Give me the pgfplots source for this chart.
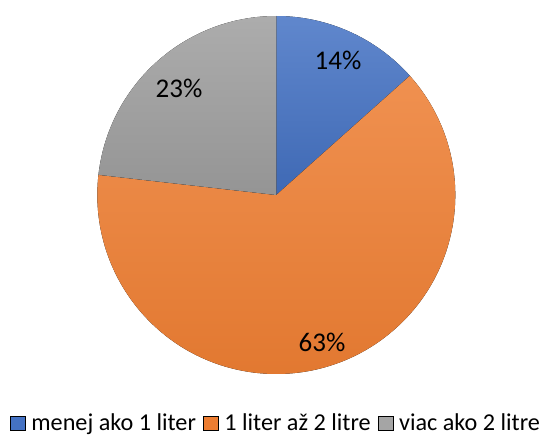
\documentclass[border=0pt]{standalone}
\usepackage{pgfplots}
\pgfplotsset{compat=1.18}
\usepackage{pgfplotstable}
\usepackage{fontspec}
\setmainfont{Carlito}
\definecolor{pblue}{HTML}{4472C4}
\definecolor{porange}{HTML}{ED7D31}
\definecolor{pgrey}{HTML}{A5A5A5}
\pgfplotstableread{
share
13.4
63.4
23.2
}\piedata
\pgfplotstablegetelem{0}{share}\of\piedata \let\sA\pgfplotsretval
\pgfplotstablegetelem{1}{share}\of\piedata \let\sB\pgfplotsretval
\pgfplotstablegetelem{2}{share}\of\piedata \let\sC\pgfplotsretval
\pgfmathsetmacro{\aA}{90}
\pgfmathsetmacro{\aB}{90-3.6*\sA}
\pgfmathsetmacro{\aC}{\aB-3.6*\sB}
\pgfmathsetmacro{\aD}{\aC-3.6*\sC}
\def\cx{276.3}
\def\cy{242}
\def\R{179pt}
\begin{document}
\begin{tikzpicture}
\begin{axis}[
  name=pie,
  scale only axis, width=544pt, height=437pt,
  xmin=0, xmax=544, ymin=0, ymax=437,
  hide axis, clip=false,
  legend columns=3,
  legend style={at={(axis cs:275,14)}, anchor=center, draw=none, fill=none,
    inner sep=0pt, outer sep=0pt,
    font=\fontsize{24.2}{27}\selectfont,
    /tikz/every odd column/.append style={column sep=6pt},
    /tikz/every even column/.append style={column sep=7pt},
    nodes={inner sep=0pt}},
  legend image code/.code={\fill[#1] (0pt,-7pt) rectangle (15pt,7pt);},
]
\fill[top color=pblue!85!white, bottom color=pblue!92!black]
  (axis cs:\cx,\cy) -- ([shift={(\aA:\R)}]axis cs:\cx,\cy) arc[start angle=\aA, end angle=\aB, radius=\R] -- cycle;
\fill[top color=porange!85!white, bottom color=porange!95!black]
  (axis cs:\cx,\cy) -- ([shift={(\aB:\R)}]axis cs:\cx,\cy) arc[start angle=\aB, end angle=\aC, radius=\R] -- cycle;
\fill[top color=pgrey!92!white, bottom color=pgrey!90!black]
  (axis cs:\cx,\cy) -- ([shift={(\aC:\R)}]axis cs:\cx,\cy) arc[start angle=\aC, end angle=\aD, radius=\R] -- cycle;
\node[font=\fontsize{27}{30}\selectfont] at (axis cs:338,377) {14\%};
\node[font=\fontsize{27}{30}\selectfont] at (axis cs:179,349) {23\%};
\node[font=\fontsize{27}{30}\selectfont] at (axis cs:322,95) {63\%};
\addlegendimage{fill=pblue}
\addlegendentry{menej ako 1 liter}
\addlegendimage{fill=porange}
\addlegendentry{1 liter až 2 litre}
\addlegendimage{fill=pgrey}
\addlegendentry{viac ako 2 litre}
\end{axis}
\pgfresetboundingbox
\path[use as bounding box] (pie.south west) rectangle (pie.north east);
\end{tikzpicture}
\end{document}
